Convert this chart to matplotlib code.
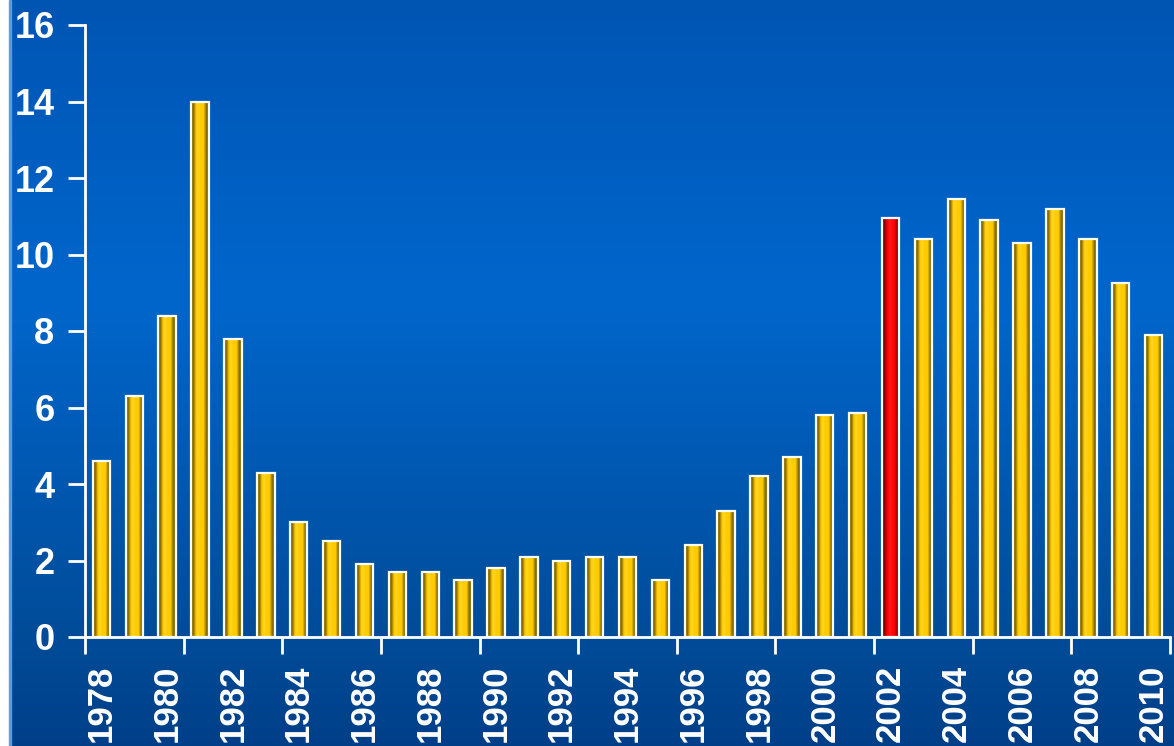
import numpy as np
import matplotlib
matplotlib.use("Agg")
import matplotlib.pyplot as plt
from matplotlib.colors import LinearSegmentedColormap

years = list(range(1978, 2011))
values = [4.6, 6.3, 8.4, 14.0, 7.8, 4.3, 3.0, 2.5, 1.9, 1.7, 1.7, 1.5,
          1.8, 2.1, 2.0, 2.1, 2.1, 1.5, 2.4, 3.3, 4.2, 4.7, 5.8, 5.85,
          10.95, 10.4, 11.45, 10.9, 10.3, 11.2, 10.4, 9.25, 7.9]
highlight = 2002
yticks = [0, 2, 4, 6, 8, 10, 12, 14, 16]

W, H = 1174, 746
fig = plt.figure(figsize=(W / 100, H / 100), dpi=100)

# background gradient (whole figure)
bg = fig.add_axes([0, 0, 1, 1], zorder=0)
bg_cmap = LinearSegmentedColormap.from_list(
    "bg", [(0, "#0055b3"), (0.40, "#0066cc"), (0.85, "#004c99"), (1, "#003f88")])
grad = np.linspace(0, 1, 256).reshape(-1, 1)
bg.imshow(grad, cmap=bg_cmap, aspect="auto", extent=(0, W, H, 0))
bg.axvspan(0, 9, color="white")
bg.axvspan(9, 11, color="#5b9be0")
bg.set_xlim(0, W)
bg.set_ylim(H, 0)
bg.axis("off")

ax = fig.add_axes([85 / W, 109 / H, 1085 / W, 612 / H], zorder=1)
ax.patch.set_alpha(0)

gold = LinearSegmentedColormap.from_list(
    "gold", [(0, "#8a6d00"), (0.14, "#8a6d00"), (0.2, "#c09800"), (0.28, "#ffcc00"),
             (0.42, "#ffd52a"), (0.5, "#ffcc00"), (0.7, "#ffcc00"), (0.78, "#c8a000"),
             (0.85, "#8a6d00"), (1, "#8a6d00")])
red = LinearSegmentedColormap.from_list(
    "red", [(0, "#8b0000"), (0.14, "#8b0000"), (0.22, "#cc0000"), (0.3, "#ff0000"),
            (0.45, "#ff1a1a"), (0.7, "#ff0000"), (0.8, "#c00000"), (0.86, "#8b0000"),
            (1, "#8b0000")])
hgrad = np.linspace(0, 1, 64).reshape(1, -1)

x = np.arange(len(years))
bw = 0.53
for xi, yr, v in zip(x, years, values):
    cm = red if yr == highlight else gold
    ax.imshow(hgrad, cmap=cm, aspect="auto",
              extent=(xi - bw / 2, xi + bw / 2, 0, v), zorder=2)
ax.bar(x, values, width=bw, facecolor="none", edgecolor="white",
       linewidth=1.6, zorder=3)

ax.set_xlim(-0.5, len(years) - 0.5)
ax.set_ylim(0, 16)
ax.set_aspect("auto")

for s in ["top", "right"]:
    ax.spines[s].set_visible(False)
for s in ["left", "bottom"]:
    ax.spines[s].set_color("white")
    ax.spines[s].set_linewidth(2)
    ax.spines[s].set_zorder(4)

ax.set_yticks(yticks)
ax.set_yticklabels([str(t) for t in yticks], fontsize=26, fontweight="bold",
                   family="Liberation Sans")
ax.tick_params(axis="y", direction="out", length=12, width=2, color="white",
               pad=10, labelcolor="white")

ax.set_xticks(np.arange(-0.5, len(years), 3))
ax.set_xticklabels([])
ax.tick_params(axis="x", which="major", direction="out", length=12, width=2,
               color="white")
ax.set_xticks(x[::2], minor=True)
ax.set_xticklabels([str(y) for y in years[::2]], minor=True, rotation=90,
                   fontsize=25, fontweight="bold", color="white",
                   family="Liberation Sans", va="top")
ax.tick_params(axis="x", which="minor", length=0, pad=20)

fig.savefig("out.png", dpi=100)
